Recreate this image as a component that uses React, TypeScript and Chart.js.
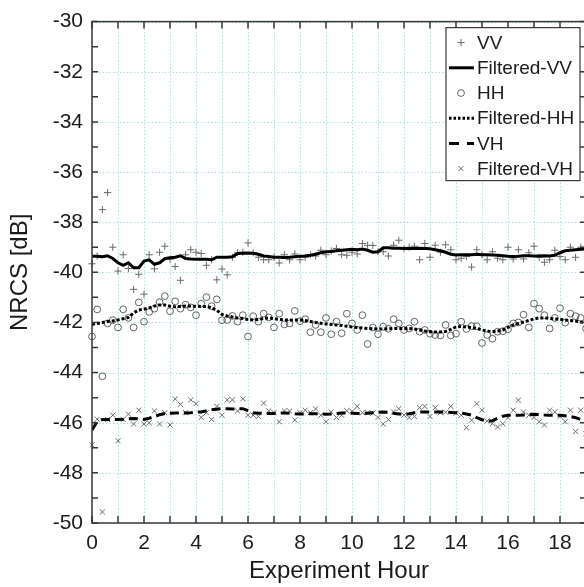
import { useEffect, useRef } from 'react';
import { Chart, registerables } from 'chart.js';

Chart.register(...registerables);

const CANVAS_W = 600;
const CANVAS_H = 587;

const hours = [
  0, 0.2, 0.4, 0.6, 0.8, 1, 1.2, 1.4, 1.6, 1.8,
  2, 2.2, 2.4, 2.6, 2.8, 3, 3.2, 3.4, 3.6, 3.8,
  4, 4.2, 4.4, 4.6, 4.8, 5, 5.2, 5.4, 5.6, 5.8,
  6, 6.2, 6.4, 6.6, 6.8, 7, 7.2, 7.4, 7.6, 7.8,
  8, 8.2, 8.4, 8.6, 8.8, 9, 9.2, 9.4, 9.6, 9.8,
  10, 10.2, 10.4, 10.6, 10.8, 11, 11.2, 11.4, 11.6, 11.8,
  12, 12.2, 12.4, 12.6, 12.8, 13, 13.2, 13.4, 13.6, 13.8,
  14, 14.2, 14.4, 14.6, 14.8, 15, 15.2, 15.4, 15.6, 15.8,
  16, 16.2, 16.4, 16.6, 16.8, 17, 17.2, 17.4, 17.6, 17.8,
  18, 18.2, 18.4, 18.6, 18.8, 19,
];

const vv = [
  -39.66, -39.35, -37.5, -36.82, -39.0, -39.95, -39.3, -39.85, -40.68, -40.08,
  -40.87, -39.3, -39.86, -39.2, -38.96, -39.48, -39.77, -40.32, -39.3, -39.1,
  -39.2, -39.25, -39.72, -39.5, -40.3, -39.87, -40.1, -39.4, -39.22, -39.2,
  -38.83, -39.22, -39.4, -39.5, -39.5, -39.4, -39.63, -39.3, -39.5, -39.27,
  -39.5, -39.4, -39.3, -39.35, -39.12, -39.3, -39.15, -39.05, -39.3, -39.32,
  -39.2, -39.27, -38.85, -38.92, -38.93, -39.18, -39.18, -39.35, -38.92, -38.72,
  -39.05, -39.0, -38.96, -39.5, -38.85, -39.4, -38.92, -39.2, -38.9, -39.1,
  -39.5, -39.44, -39.37, -39.79, -39.1, -39.3, -39.5, -39.18, -39.44, -39.5,
  -39.0, -39.47, -39.1, -39.47, -39.22, -38.96, -39.4, -39.6, -39.5, -39.12,
  -39.37, -39.5, -39.0, -39.4, -39.0, -39.1,
];

const filteredVV = [
  -39.36, -39.36, -39.38, -39.34, -39.45, -39.62, -39.72, -39.62, -39.82, -39.82,
  -39.55, -39.5, -39.68, -39.62, -39.46, -39.42, -39.4, -39.34, -39.45, -39.47,
  -39.48, -39.48, -39.48, -39.5, -39.4, -39.4, -39.4, -39.38, -39.25, -39.24,
  -39.23, -39.24, -39.28, -39.35, -39.37, -39.4, -39.4, -39.41, -39.4, -39.38,
  -39.36, -39.35, -39.32, -39.28, -39.22, -39.18, -39.17, -39.14, -39.12, -39.1,
  -39.08, -39.1, -39.07, -39.12, -39.2, -39.18, -39.02, -39.02, -39.04, -39.04,
  -39.05, -39.05, -39.05, -39.04, -39.05, -39.06, -39.1, -39.14, -39.2, -39.28,
  -39.31, -39.3, -39.3, -39.3, -39.28, -39.3, -39.3, -39.31, -39.32, -39.34,
  -39.36, -39.37, -39.36, -39.34, -39.34, -39.35, -39.35, -39.34, -39.35, -39.32,
  -39.22, -39.14, -39.12, -39.1, -39.08, -39.06,
];

const hh = [
  -42.56, -41.48, -44.15, -42.04, -41.91, -42.2, -41.48, -41.82, -42.2, -41.2,
  -41.97, -41.58, -41.45, -41.19, -40.95, -41.55, -41.16, -41.45, -41.29, -41.4,
  -41.71, -41.25, -40.99, -41.35, -41.08, -41.91, -41.9, -41.74, -41.97, -41.71,
  -42.56, -41.75, -41.97, -41.65, -41.8, -42.2, -41.65, -42.08, -42.04, -41.54,
  -41.95, -41.87, -42.39, -42.1, -42.39, -41.82, -42.47, -41.97, -42.43, -41.65,
  -42.04, -42.3, -41.71, -42.86, -42.2, -42.47, -42.17, -42.25, -41.87, -42.04,
  -42.3, -42.24, -41.97, -42.37, -42.3, -42.45, -42.5, -42.52, -42.1, -42.52,
  -42.45, -41.97, -42.26, -42.15, -42.15, -42.82, -42.5, -42.65, -42.37, -42.35,
  -42.27, -42.04, -42.0, -41.69, -42.2, -41.25, -41.45, -41.71, -42.24, -41.82,
  -41.43, -42.01, -41.65, -41.75, -41.82, -42.24,
];

const filteredHH = [
  -42.08, -42.04, -42.0, -41.96, -41.94, -41.9, -41.85, -41.8, -41.62, -41.5,
  -41.47, -41.42, -41.35, -41.3, -41.3, -41.35, -41.38, -41.36, -41.34, -41.35,
  -41.35, -41.36, -41.36, -41.42, -41.52, -41.68, -41.74, -41.78, -41.82, -41.84,
  -41.88, -41.9, -41.88, -41.84, -41.82, -41.85, -41.88, -41.9, -41.91, -41.9,
  -41.9, -41.92, -41.96, -42.0, -42.03, -42.06, -42.08, -42.1, -42.12, -42.15,
  -42.18, -42.2, -42.22, -42.24, -42.25, -42.26, -42.26, -42.25, -42.24, -42.24,
  -42.24, -42.24, -42.26, -42.3, -42.34, -42.37, -42.38, -42.38, -42.36, -42.28,
  -42.18, -42.16, -42.18, -42.2, -42.24, -42.3, -42.35, -42.36, -42.34, -42.3,
  -42.2, -42.1, -42.04, -41.98, -41.92, -41.86, -41.82, -41.82, -41.84, -41.86,
  -41.87, -41.9, -41.92, -41.94, -41.98, -42.02,
];

const vhLine = [
  -46.29, -45.95, -45.87, -45.87, -45.87, -45.87, -45.86, -45.84, -45.83, -45.85,
  -45.87, -45.82, -45.76, -45.68, -45.63, -45.62, -45.61, -45.61, -45.61, -45.6,
  -45.58, -45.57, -45.52, -45.48, -45.46, -45.44, -45.44, -45.45, -45.45, -45.44,
  -45.52, -45.6, -45.62, -45.63, -45.63, -45.63, -45.62, -45.61, -45.62, -45.64,
  -45.65, -45.65, -45.64, -45.64, -45.65, -45.66, -45.65, -45.63, -45.61, -45.61,
  -45.62, -45.63, -45.63, -45.62, -45.6, -45.58, -45.57, -45.58, -45.62, -45.65,
  -45.66, -45.64, -45.6, -45.57, -45.57, -45.57, -45.57, -45.57, -45.58, -45.59,
  -45.6, -45.61, -45.65, -45.7, -45.8, -45.88, -45.94, -45.92, -45.82, -45.74,
  -45.7, -45.7, -45.7, -45.69, -45.67, -45.66, -45.67, -45.69, -45.7, -45.7,
  -45.7, -45.72, -45.75, -45.8, -45.88, -45.95,
];

const vhPoints = [
  -46.88, -45.86, -49.56, -45.87, -45.7, -46.72, -45.87, -45.66, -46.05, -45.5,
  -46.05, -46.0, -45.53, -46.05, -45.6, -46.09, -45.05, -45.27, -45.6, -45.09,
  -45.24, -45.79, -45.6, -45.87, -45.35, -45.7, -45.09, -45.09, -45.53, -45.05,
  -45.7, -45.7, -45.75, -45.22, -45.53, -45.6, -45.96, -45.53, -45.53, -45.89,
  -45.6, -45.5, -45.6, -45.45, -45.7, -45.96, -45.57, -45.79, -45.7, -45.52,
  -45.55, -45.35, -45.6, -45.6, -45.62, -45.79, -46.05, -45.87, -45.57, -45.44,
  -45.7, -45.79, -45.75, -45.4, -45.35, -45.75, -45.4, -45.6, -45.58, -45.35,
  -45.62, -45.7, -46.2, -45.9, -45.24, -45.5, -45.93, -46.04, -46.17, -46.04,
  -45.8, -45.5, -45.1, -45.57, -45.7, -45.79, -45.96, -46.09, -45.5, -45.57,
  -45.75, -45.96, -45.5, -46.35, -45.5, -46.44,
];

const X_MIN = 0;
const X_MAX = 19;
const Y_MIN = -50;
const Y_MAX = -30;
const X_LABEL = 'Experiment Hour';
const Y_LABEL = 'NRCS [dB]';

const FONT = '"Liberation Sans", Arial, sans-serif';
const GRID_COLOR = 'rgba(130, 205, 210, 0.65)';
const AXIS_COLOR = '#383838';
const TEXT_COLOR = '#1a1a1a';

const toXY = (ys: number[]) => ys.map((y, i) => ({ x: hours[i], y }));

type Kind = 'cross' | 'crossRot' | 'circle' | 'line';

function drawMarker(ctx: CanvasRenderingContext2D, kind: Kind, x: number, y: number, r: number) {
  ctx.beginPath();
  if (kind === 'cross') {
    ctx.moveTo(x - r, y); ctx.lineTo(x + r, y);
    ctx.moveTo(x, y - r); ctx.lineTo(x, y + r);
  } else if (kind === 'crossRot') {
    const d = r * 0.7071;
    ctx.moveTo(x - d, y - d); ctx.lineTo(x + d, y + d);
    ctx.moveTo(x - d, y + d); ctx.lineTo(x + d, y - d);
  } else if (kind === 'circle') {
    ctx.arc(x, y, r, 0, Math.PI * 2);
  }
  ctx.stroke();
}

const framePlugin = {
  id: 'matlabFrame',
  beforeDatasetsDraw(chart: any) {
    const { ctx, chartArea: a, scales } = chart;
    const xs = scales.x;
    const ys = scales.y;
    ctx.save();
    ctx.strokeStyle = GRID_COLOR;
    ctx.lineWidth = 1;
    ctx.setLineDash([1.5, 2]);
    xs.ticks.forEach((t: any) => {
      const px = Math.round(xs.getPixelForValue(t.value)) + 0.5;
      ctx.beginPath(); ctx.moveTo(px, a.top); ctx.lineTo(px, a.bottom); ctx.stroke();
    });
    ys.ticks.forEach((t: any) => {
      if (Math.abs(t.value) % 2 !== 0) return;
      const py = Math.round(ys.getPixelForValue(t.value)) + 0.5;
      ctx.beginPath(); ctx.moveTo(a.left, py); ctx.lineTo(a.right, py); ctx.stroke();
    });
    ctx.restore();
  },
  afterDatasetsDraw(chart: any) {
    const { ctx, chartArea: a, scales } = chart;
    const xs = scales.x;
    const ys = scales.y;
    ctx.save();
    ctx.strokeStyle = AXIS_COLOR;
    ctx.lineWidth = 1.5;
    ctx.setLineDash([]);
    ctx.strokeRect(a.left, a.top, a.right - a.left, a.bottom - a.top);
    const tl = 7;
    xs.ticks.forEach((t: any) => {
      const px = xs.getPixelForValue(t.value);
      ctx.beginPath();
      ctx.moveTo(px, a.bottom); ctx.lineTo(px, a.bottom - tl);
      ctx.moveTo(px, a.top); ctx.lineTo(px, a.top + tl);
      ctx.stroke();
    });
    ys.ticks.forEach((t: any) => {
      const py = ys.getPixelForValue(t.value);
      ctx.beginPath();
      ctx.moveTo(a.left, py); ctx.lineTo(a.left + tl - 1, py);
      ctx.moveTo(a.right, py); ctx.lineTo(a.right - tl + 1, py);
      ctx.stroke();
    });
    ctx.restore();
  },
  afterDraw(chart: any) {
    const { ctx, chartArea: a } = chart;
    const w = 134;
    const h = 153;
    const left = a.right - 6 - w;
    const top = a.top + 6;
    ctx.save();
    ctx.fillStyle = '#ffffff';
    ctx.fillRect(left, top, w, h);
    ctx.strokeStyle = AXIS_COLOR;
    ctx.lineWidth = 1.2;
    ctx.setLineDash([]);
    ctx.strokeRect(left, top, w, h);
    ctx.font = `19px ${FONT}`;
    ctx.textBaseline = 'middle';
    ctx.textAlign = 'left';
    chart.data.datasets.forEach((ds: any, i: number) => {
      const cy = top + 15 + i * 25.2;
      const kind: Kind = ds.showLine === false ? ds.pointStyle : 'line';
      ctx.save();
      if (kind === 'line') {
        ctx.strokeStyle = ds.borderColor;
        ctx.lineWidth = ds.borderWidth;
        ctx.setLineDash(ds.legendDash || []);
        ctx.beginPath();
        ctx.moveTo(left + 3, cy); ctx.lineTo(left + 28, cy);
        ctx.stroke();
      } else {
        ctx.strokeStyle = ds.pointBorderColor;
        ctx.lineWidth = ds.pointBorderWidth;
        drawMarker(ctx, kind, left + 15, cy, ds.pointRadius);
      }
      ctx.restore();
      ctx.fillStyle = TEXT_COLOR;
      ctx.fillText(ds.label, left + 31, cy + 1);
    });
    ctx.restore();
  },
};

export default function App() {
  const ref = useRef<HTMLCanvasElement>(null);
  useEffect(() => {
    if (!ref.current) return;
    Chart.defaults.font.family = FONT;
    Chart.defaults.color = TEXT_COLOR;
    const markerBase = {
      showLine: false,
      borderWidth: 0,
      pointBackgroundColor: 'rgba(0,0,0,0)',
      pointHoverRadius: 0,
      clip: false as any,
      order: 1,
    };
    const lineBase = {
      showLine: true,
      pointRadius: 0,
      pointHoverRadius: 0,
      borderColor: '#000000',
      backgroundColor: '#000000',
      fill: false,
      tension: 0,
      order: 0,
    };
    const chart = new Chart(ref.current, {
      type: 'line',
      data: {
        datasets: [
          { ...markerBase, label: 'VV', data: toXY(vv), pointStyle: 'cross', pointRadius: 3.6, pointBorderColor: '#6a6a6a', pointBorderWidth: 1, borderColor: '#6a6a6a' } as any,
          { ...lineBase, label: 'Filtered-VV', data: toXY(filteredVV), borderWidth: 3 } as any,
          { ...markerBase, label: 'HH', data: toXY(hh), pointStyle: 'circle', pointRadius: 3.4, pointBorderColor: '#505050', pointBorderWidth: 0.9, borderColor: '#505050' } as any,
          { ...lineBase, label: 'Filtered-HH', data: toXY(filteredHH), borderWidth: 3, borderDash: [3, 2], legendDash: [2.5, 2] } as any,
          { ...lineBase, label: 'VH', data: toXY(vhLine), borderWidth: 3, borderDash: [9, 5], legendDash: [10, 8] } as any,
          { ...markerBase, label: 'Filtered-VH', data: toXY(vhPoints), pointStyle: 'crossRot', pointRadius: 3.6, pointBorderColor: '#6a6a6a', pointBorderWidth: 1, borderColor: '#6a6a6a' } as any,
        ],
      },
      options: {
        animation: false,
        responsive: false,
        devicePixelRatio: 1,
        events: [],
        layout: { padding: { top: 13, right: CANVAS_W - 586, left: 0, bottom: 0 } },
        plugins: { legend: { display: false }, tooltip: { enabled: false } },
        scales: {
          x: {
            type: 'linear',
            min: X_MIN,
            max: X_MAX,
            grid: { display: false, drawTicks: false },
            border: { display: false },
            ticks: {
              stepSize: 1,
              autoSkip: false,
              maxRotation: 0,
              padding: 8,
              color: TEXT_COLOR,
              font: { size: 21, family: FONT },
              callback: (v: any) => (Number(v) % 2 === 0 ? String(v) : ''),
            },
            title: { display: true, text: X_LABEL, color: TEXT_COLOR, font: { size: 24, family: FONT }, padding: { top: 0, bottom: 1 } },
            afterFit: (s: any) => { s.height = 64; },
          },
          y: {
            type: 'linear',
            min: Y_MIN,
            max: Y_MAX,
            grid: { display: false, drawTicks: false },
            border: { display: false },
            ticks: {
              stepSize: 1,
              autoSkip: false,
              padding: 9,
              color: TEXT_COLOR,
              font: { size: 21, family: FONT },
              callback: (v: any) => (Math.abs(Number(v)) % 2 === 0 ? String(v) : ''),
            },
            title: { display: true, text: Y_LABEL, color: TEXT_COLOR, font: { size: 24, family: FONT }, padding: { top: 6, bottom: 0 } },
            afterFit: (s: any) => { s.width = 92; },
          },
        },
      },
      plugins: [framePlugin],
    });
    return () => chart.destroy();
  }, []);
  return (
    <div style={{ position: 'fixed', left: 0, top: 0, width: 584, height: 587, overflow: 'hidden', background: '#ffffff' }}>
      <canvas ref={ref} width={CANVAS_W} height={CANVAS_H} style={{ display: 'block', width: CANVAS_W, height: CANVAS_H }} />
    </div>
  );
}
